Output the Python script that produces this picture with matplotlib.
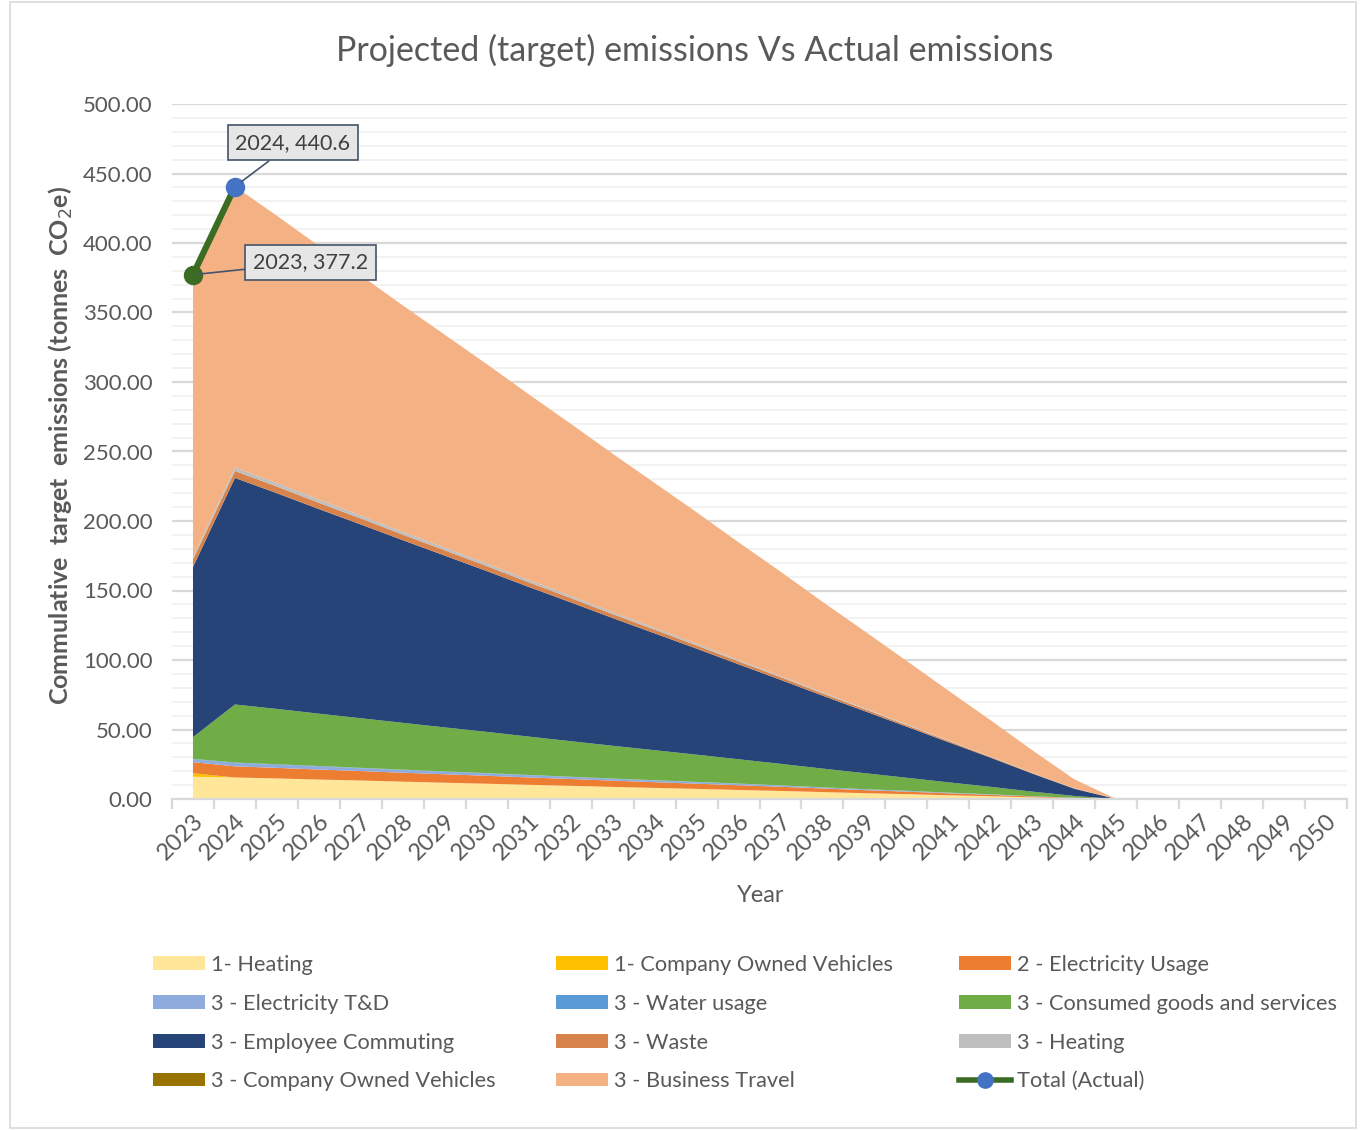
import numpy as np
import matplotlib
matplotlib.use('Agg')
import matplotlib.pyplot as plt
from matplotlib.patches import Patch, Rectangle
from matplotlib.lines import Line2D
from matplotlib.ticker import MultipleLocator, FormatStrFormatter

plt.rcParams['font.family'] = ['Lato', 'DejaVu Sans']

# data (2023..2050)
years = list(range(2023, 2051))
pad = [0.0] * 5  # 2046..2050

heating_1 = [16.0, 15.5, 14.8, 14.0, 13.3, 12.5, 11.7, 11.0, 10.2, 9.5, 8.7, 8.0, 7.3,
             6.5, 5.8, 5.0, 4.2, 3.5, 2.7, 2.0, 1.2, 0.5, 0.0] + pad
vehicles_1 = [2.5] + [0.0] * 22 + pad
electricity = [8.0, 8.0, 7.6, 7.2, 6.8, 6.4, 6.1, 5.7, 5.3, 4.9, 4.5, 4.1, 3.7,
               3.4, 3.0, 2.6, 2.2, 1.8, 1.4, 1.0, 0.6, 0.3, 0.0] + pad
elec_td = [2.0, 2.3, 2.2, 2.1, 2.0, 1.9, 1.7, 1.6, 1.5, 1.4, 1.3, 1.2, 1.1,
           1.0, 0.9, 0.7, 0.6, 0.5, 0.4, 0.3, 0.2, 0.1, 0.0] + pad
water = [0.4, 0.4, 0.4, 0.4, 0.3, 0.3, 0.3, 0.3, 0.3, 0.2, 0.2, 0.2, 0.2,
         0.2, 0.1, 0.1, 0.1, 0.1, 0.1, 0.1, 0.0, 0.0, 0.0] + pad
consumed = [15.6, 41.8, 39.8, 37.7, 35.7, 33.7, 31.7, 29.7, 27.6, 25.6, 23.6, 21.6, 19.6,
            17.5, 15.5, 13.5, 11.5, 9.4, 7.4, 5.4, 3.3, 1.3, 0.0] + pad
commuting = [122.4, 163.0, 155.2, 147.2, 139.4, 131.4, 123.6, 115.7, 107.7, 99.9, 91.9, 84.1, 76.3,
             68.3, 60.5, 52.5, 44.7, 36.8, 28.9, 21.0, 13.0, 5.2, 0.0] + pad
waste = [5.5, 5.0, 4.8, 4.5, 4.3, 4.0, 3.8, 3.6, 3.3, 3.1, 2.8, 2.6, 2.3,
         2.1, 1.9, 1.6, 1.4, 1.1, 0.9, 0.6, 0.4, 0.2, 0.0] + pad
heating_3 = [1.5, 2.5, 2.4, 2.3, 2.1, 2.0, 1.9, 1.8, 1.7, 1.5, 1.4, 1.3, 1.2,
             1.0, 0.9, 0.8, 0.7, 0.6, 0.4, 0.3, 0.2, 0.1, 0.0] + pad
vehicles_3 = [0.0] * 23 + pad
business = [203.2, 202.1, 192.4, 182.5, 172.8, 162.9, 153.2, 143.5, 133.6, 123.9, 114.0, 104.3, 94.6,
            84.7, 75.0, 65.1, 55.4, 45.7, 35.8, 26.1, 16.2, 6.5, 0.0] + pad

actual_years = [2023, 2024]
actual_total = [377.2, 440.6]

labels = ['1- Heating', '1- Company Owned Vehicles', '2 - Electricity Usage',
          '3 - Electricity T&D', '3 - Water usage', '3 - Consumed goods and services',
          '3 - Employee Commuting', '3 - Waste', '3 - Heating',
          '3 - Company Owned Vehicles', '3 - Business Travel']
colors = ['#FFE699', '#FFC000', '#ED7D31', '#8FAADC', '#5B9BD5', '#70AD47',
          '#264478', '#D7834B', '#BFBFBF', '#997300', '#F4B183']
series = [heating_1, vehicles_1, electricity, elec_td, water, consumed,
          commuting, waste, heating_3, vehicles_3, business]

txt = '#595959'

fig = plt.figure(figsize=(13.6, 11.3), dpi=100)
ax = fig.add_axes([172/1360, 1-799/1130, (1347-172)/1360, (799-104)/1130])

x = np.arange(len(years))
ax.stackplot(x, *series, colors=colors, labels=labels, linewidth=0, zorder=2)

# actual totals
xa = [years.index(y) for y in actual_years]
ax.plot(xa, actual_total, color='#3C6B24', lw=4.5, zorder=4, solid_capstyle='round')
ax.plot(xa[0], actual_total[0], 'o', ms=13, color='#3C6B24', zorder=5)
ax.plot(xa[1], actual_total[1], 'o', ms=13, color='#4472C4', zorder=5)

# data labels
box = dict(boxstyle='square,pad=0.35', fc='#E7E6E6', ec='#44546A', lw=1.2)
ax.annotate('{}, {:.1f}'.format(actual_years[1], actual_total[1]), xy=(xa[1], actual_total[1]),
            xytext=(2.38, 472), ha='center', va='center', fontsize=15.5, color='#404040', bbox=box,
            arrowprops=dict(arrowstyle='-', color='#44546A', lw=1.2, shrinkA=0, shrinkB=6), zorder=6)
ax.annotate('{}, {:.1f}'.format(actual_years[0], actual_total[0]), xy=(xa[0], actual_total[0]),
            xytext=(2.8, 386), ha='center', va='center', fontsize=15.5, color='#404040', bbox=box,
            arrowprops=dict(arrowstyle='-', color='#44546A', lw=1.2, shrinkA=0, shrinkB=4), zorder=6)

ax.set_xlim(-0.5, len(years) - 0.5)
ax.set_ylim(0, 500)
ax.yaxis.set_major_locator(MultipleLocator(50))
ax.yaxis.set_minor_locator(MultipleLocator(10))
ax.yaxis.set_major_formatter(FormatStrFormatter('%.2f'))
ax.grid(axis='y', which='major', color='#D9D9D9', lw=1.6, zorder=0)
ax.grid(axis='y', which='minor', color='#F0F0F0', lw=1.2, zorder=0)
ax.set_axisbelow(True)
for s in ['left', 'right', 'top']:
    ax.spines[s].set_visible(False)
ax.spines['bottom'].set_color('#D9D9D9')
ax.spines['bottom'].set_linewidth(1.6)
ax.spines['bottom'].set_zorder(3)

ax.set_xticks(x)
ax.set_xticklabels([str(y) for y in years], rotation=45, ha='right', va='top',
                   rotation_mode='anchor', fontsize=17, color=txt)
ax.set_xticks(np.arange(-0.5, len(years)), minor=True)
ax.tick_params(axis='x', which='major', length=0, pad=8)
ax.tick_params(axis='x', which='minor', length=7, width=1.6, color='#D9D9D9')
ax.tick_params(axis='y', which='both', length=0, labelsize=16, labelcolor=txt, pad=14)

fig.text(695/1360, 1-50/1130, 'Projected (target) emissions Vs Actual emissions',
         ha='center', va='center', fontsize=24.5, color=txt)
fig.text(761/1360, 1-895/1130, 'Year', ha='center', va='center', fontsize=17, color=txt)
fig.text(61/1360, 1-445/1130, 'Commulative  target  emissions (tonnes  CO$_2$e)',
         ha='center', va='center', rotation=90, fontsize=18, fontweight='bold', color=txt)

# legend, three columns
handles = [Patch(fc=c, ec='none') for c in colors]
handles.append(Line2D([0], [0], color='#3C6B24', lw=4, marker='o', ms=11,
                      mfc='#4472C4', mec='#4472C4'))
leg_labels = labels + ['Total (Actual)']
col_x = [153, 556, 959]
for c in range(3):
    idx = list(range(c, 12, 3))
    fig.legend([handles[i] for i in idx], [leg_labels[i] for i in idx],
               loc='upper left', bbox_to_anchor=(col_x[c]/1360, 1-955/1130),
               frameon=False, fontsize=15.7, labelcolor=txt, handlelength=2.4,
               handleheight=0.6, handletextpad=0.25, labelspacing=0.86,
               borderaxespad=0, borderpad=0)

# chart border
fig.add_artist(Rectangle((10/1360, 0.002), 1346/1360, 0.996, transform=fig.transFigure,
                         fill=False, ec='#D9D9D9', lw=1.2))

fig.savefig('out.png', dpi=100)
